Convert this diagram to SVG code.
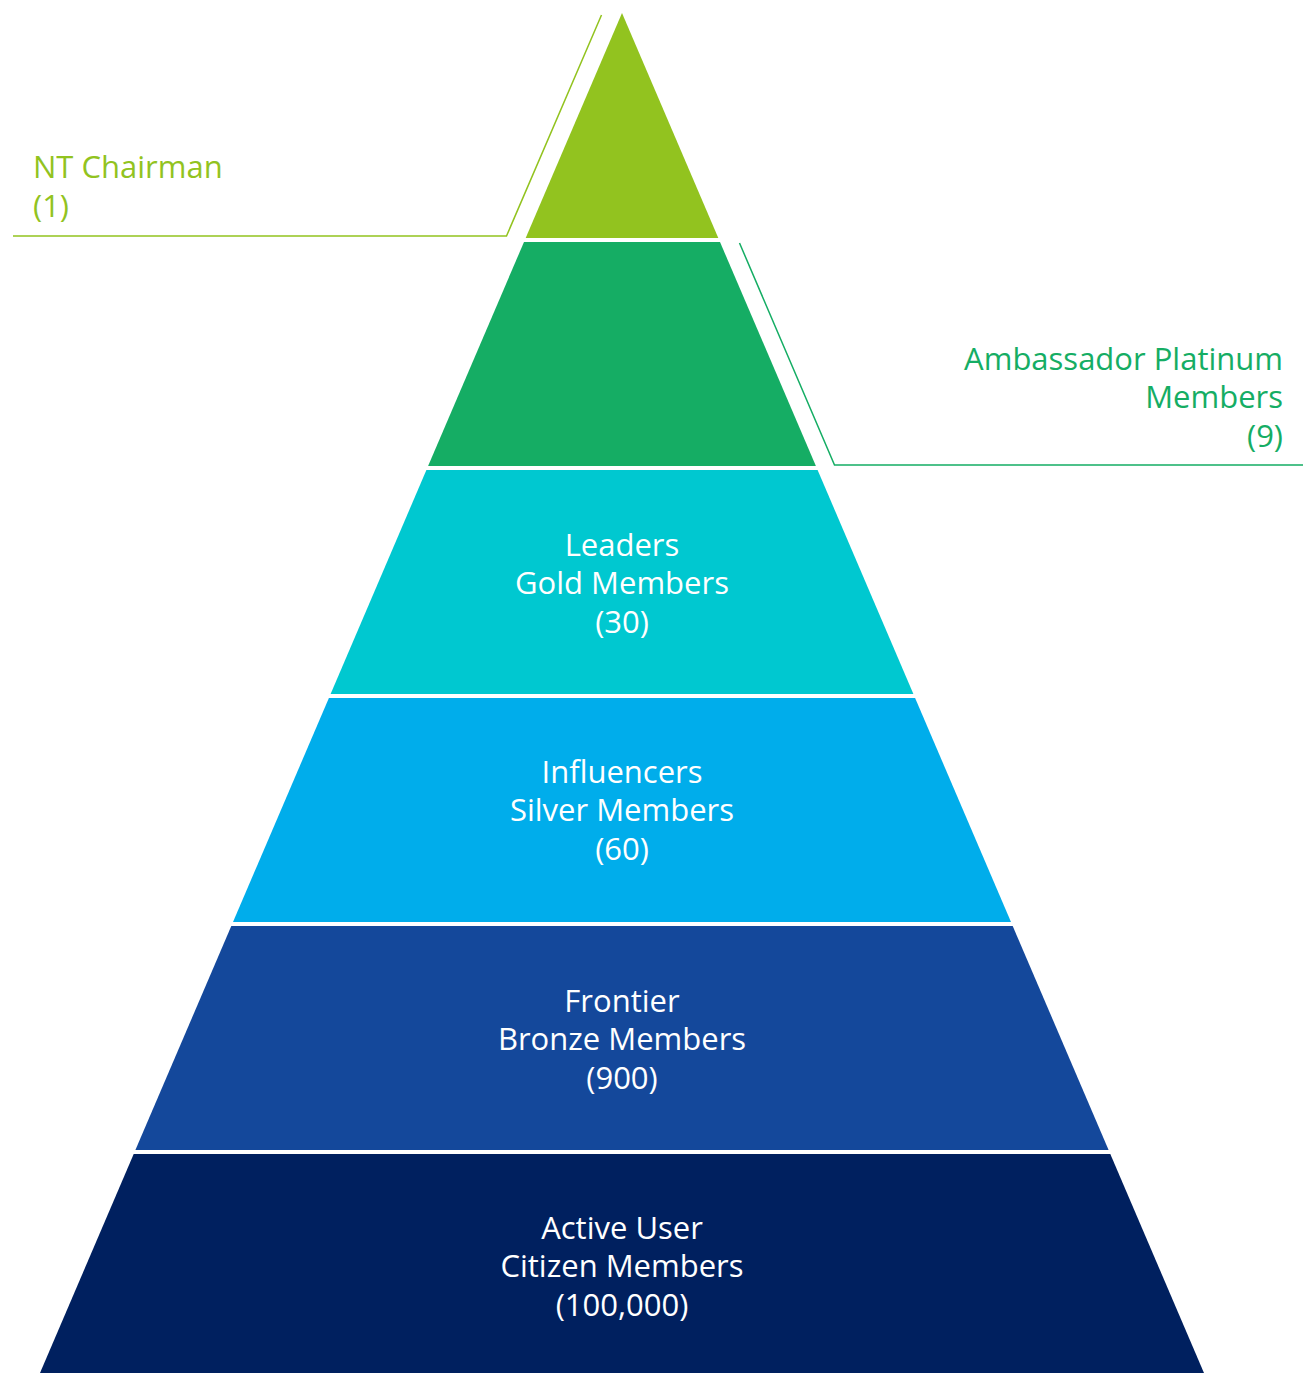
<svg xmlns="http://www.w3.org/2000/svg" width="1308" height="1374" viewBox="0 0 1308 1374">
<style>
.t{font-family:"Open Sans","Noto Sans","Liberation Sans",sans-serif;font-size:31px;}
.c{fill:#ffffff;text-anchor:middle;}
.lime{fill:#92C31F;}
.grn{fill:#15AD64;}
.ln{fill:none;stroke-width:1.5;}
</style>
<rect width="1308" height="1374" fill="#ffffff"/>
<g id="connectors">
<polyline class="ln" stroke="#92C31F" points="601.5,15 506.5,236 13,236"/>
<polyline class="ln" stroke="#15AD64" points="739.5,243 834.5,465 1303,465"/>
</g>
<g id="level1">
<polygon fill="#92C31F" points="622,13 718.3,238 525.7,238"/>
</g>
<g id="level2">
<polygon fill="#15AD64" points="524,242 720,242 815.9,466 428.1,466"/>
</g>
<g id="level3">
<polygon fill="#00C8D0" points="426.4,470 817.6,470 913.4,694 330.6,694"/>
<text class="t c" x="622" y="556">Leaders</text>
<text class="t c" x="622" y="594">Gold Members</text>
<text class="t c" x="622" y="633">(30)</text>
</g>
<g id="level4">
<polygon fill="#00ADEB" points="328.9,698 915.1,698 1011,922 233,922"/>
<text class="t c" x="622" y="783">Influencers</text>
<text class="t c" x="622" y="821">Silver Members</text>
<text class="t c" x="622" y="860">(60)</text>
</g>
<g id="level5">
<polygon fill="#14489B" points="231.3,926 1012.7,926 1108.6,1150 135.4,1150"/>
<text class="t c" x="622" y="1012">Frontier</text>
<text class="t c" x="622" y="1050">Bronze Members</text>
<text class="t c" x="622" y="1089">(900)</text>
</g>
<g id="level6">
<polygon fill="#00205F" points="133.7,1154 1110.3,1154 1204,1373 40,1373"/>
<text class="t c" x="622" y="1239">Active User</text>
<text class="t c" x="622" y="1277">Citizen Members</text>
<text class="t c" x="622" y="1316">(100,000)</text>
</g>
<g id="label-chairman">
<text class="t lime" x="33" y="178">NT Chairman</text>
<text class="t lime" x="33" y="217">(1)</text>
</g>
<g id="label-ambassador">
<text class="t grn" x="1283" y="370" text-anchor="end">Ambassador Platinum</text>
<text class="t grn" x="1283" y="408" text-anchor="end">Members</text>
<text class="t grn" x="1283" y="447" text-anchor="end">(9)</text>
</g>
</svg>
